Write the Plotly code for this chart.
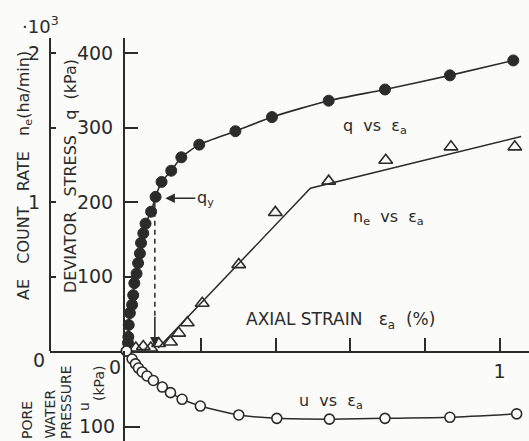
import plotly.graph_objects as go

# ---------------- data ----------------
q_strain = [0, 0.004, 0.005, 0.006, 0.009, 0.015, 0.018, 0.021, 0.027, 0.031, 0.036, 0.039,
            0.045, 0.051, 0.066, 0.078, 0.094, 0.120, 0.147, 0.195, 0.292, 0.390, 0.542,
            0.693, 0.867, 1.037]
q_kpa = [0, 11, 19, 35, 51, 62, 75, 91, 104, 118, 131, 145, 158, 171, 187, 207, 227, 242,
         260, 277, 295, 314, 336, 351, 370, 390]

ne_strain = [0.025, 0.045, 0.065, 0.086, 0.118, 0.140, 0.163, 0.203, 0.301, 0.399, 0.542,
             0.695, 0.870, 1.041]
ne_k = [0.02, 0.03, 0.02, 0.05, 0.06, 0.12, 0.19, 0.32, 0.58, 0.93, 1.14, 1.28, 1.37, 1.37]

fit_strain = [0.085, 0.493, 1.058]
fit_ne = [0.02, 1.092, 1.44]

u_strain = [0, 0.015, 0.024, 0.032, 0.042, 0.055, 0.072, 0.096, 0.118, 0.149, 0.198, 0.301,
            0.403, 0.544, 0.693, 0.867, 1.046]
u_kpa = [0, 10.6, 17, 22.5, 27.7, 33, 39, 47.6, 55, 63.8, 72.7, 84.5, 89, 90, 89, 87.6, 83]

qy_strain = 0.076
qy_kpa = 207

x_ticks = [0.2, 0.4, 0.6, 0.8, 1.0]
x_ticktext = ["", "", "", "", "1"]
q_ticks = [100, 200, 300, 400]
ne_ticks = [0.5, 1, 1.5, 2]
ne_ticktext = ["", "1", "", "2"]
u_ticks = [100]

# ---------------- layout helpers ----------------
W, H = 529, 441
ML, MT = 50, 38
PW, PH = W - ML, H - MT
BASE = 351  # pixel row of the zero line


def px(x):
    return (x - ML) / PW


def py(y):
    return (H - y) / PH


INK = "#2b2b2b"
FONT = "DejaVu Sans"
base_frac = py(BASE)

fig = go.Figure()

fig.add_trace(go.Scatter(
    x=q_strain, y=q_kpa, mode="lines+markers", xaxis="x", yaxis="y",
    line=dict(color=INK, width=1.6, shape="spline", smoothing=0.6),
    marker=dict(symbol="circle", size=11, color=INK, line=dict(color=INK, width=1)),
    cliponaxis=False, showlegend=False))

fig.add_trace(go.Scatter(
    x=fit_strain, y=fit_ne, mode="lines", xaxis="x", yaxis="y2",
    line=dict(color=INK, width=1.5), cliponaxis=False, showlegend=False))

fig.add_trace(go.Scatter(
    x=ne_strain, y=ne_k, mode="markers", xaxis="x", yaxis="y2",
    marker=dict(symbol="triangle-up-open", size=12, color=INK, line=dict(color=INK, width=1.6)),
    cliponaxis=False, showlegend=False))

fig.add_trace(go.Scatter(
    x=u_strain, y=u_kpa, mode="lines+markers", xaxis="x", yaxis="y3",
    line=dict(color=INK, width=1.5, shape="spline", smoothing=0.6),
    marker=dict(symbol="circle", size=10, color="#fbfbf9", line=dict(color=INK, width=1.6)),
    cliponaxis=False, showlegend=False))

x_lo = (ML - 126.5) / 373.0
x_hi = (W - 126.5) / 373.0
q_top = (BASE - MT) / 0.745
ne_top = (BASE - MT) / 149.0
u_bot = (H - BASE) / 0.757

tickfont = dict(family=FONT, size=19, color=INK)

fig.update_layout(
    width=W, height=H,
    margin=dict(l=ML, r=0, t=MT, b=0, pad=0),
    paper_bgcolor="#fbfbf9", plot_bgcolor="rgba(0,0,0,0)",
    font=dict(family=FONT, color=INK),
    xaxis=dict(range=[x_lo, x_hi], domain=[0, 1], anchor="y",
               showgrid=False, zeroline=False, showline=True, linecolor=INK, linewidth=2,
               ticks="inside", ticklen=13, tickwidth=1.5, tickcolor=INK,
               tickvals=x_ticks, ticktext=x_ticktext, tickfont=tickfont, ticklabelstandoff=2),
    yaxis=dict(range=[0, q_top], domain=[base_frac, 1], anchor="free",
               position=px(124), showgrid=False, zeroline=False, showline=True,
               linecolor=INK, linewidth=2, ticks="inside", ticklen=13, tickwidth=1.5,
               tickcolor=INK, tickvals=q_ticks, tickfont=tickfont, ticklabelstandoff=6),
    yaxis2=dict(range=[0, ne_top], domain=[base_frac, 1], anchor="free", overlaying="y",
                position=0, showgrid=False, zeroline=False, showline=True,
                linecolor=INK, linewidth=2, ticks="inside", ticklen=5, tickwidth=1.5,
                tickcolor=INK, tickvals=ne_ticks, ticktext=ne_ticktext, tickfont=tickfont,
                ticklabelstandoff=5),
    yaxis3=dict(range=[u_bot, 0], domain=[0, base_frac], anchor="free",
                position=px(124), showgrid=False, zeroline=False, showline=True,
                linecolor=INK, linewidth=2, ticks="inside", ticklen=15, tickwidth=1.5,
                tickcolor=INK, tickvals=u_ticks, tickfont=tickfont, ticklabelstandoff=4),
)

# dashed line marking the yield point
fig.add_shape(type="line", xref="x", yref="y", x0=qy_strain, x1=qy_strain,
              y0=qy_kpa - 8, y1=45, line=dict(color=INK, width=1.5, dash="5px,4px"))

NB = "\u00a0"
ann = []


def text(t, x, y, size=15, angle=0, xa="center", ya="middle"):
    ann.append(dict(text=t, x=px(x), y=py(y), xref="paper", yref="paper",
                    showarrow=False, textangle=angle, xanchor=xa, yanchor=ya,
                    font=dict(family=FONT, size=size, color=INK)))


text("·10<sup>3</sup>", 40, 25, size=18)
text(f"AE{NB*3}COUNT{NB*3}RATE{NB*3}n<sub>e</sub>(ha/min)", 24, 176, size=16, angle=-90)
text(f"DEVIATOR{NB*3}STRESS{NB*3}q{NB*2}(kPa)", 70, 176, size=16, angle=-90)
text("PORE", 27, 441, size=14, angle=-90, ya="bottom")
text("WATER", 49, 441, size=14, angle=-90, ya="bottom")
text("PRESSURE", 66, 441, size=14, angle=-90, ya="bottom")
text("u", 84, 407, size=14, angle=-90)
text("(kPa)", 99, 384, size=14, angle=-90)
text("0", 39, 360, size=19)
text("0", 115, 367, size=19)
text(f"AXIAL{NB}STRAIN{NB*3}ε<sub>a</sub>{NB*2}(%)", 244, 320, size=17, xa="left")
text(f"q{NB*2}vs{NB*2}ε<sub>a</sub>", 341, 127, size=16, xa="left")
text(f"n<sub>e</sub>{NB*2}vs{NB*2}ε<sub>a</sub>", 351, 217, size=16, xa="left")
text(f"u{NB*2}vs{NB*2}ε<sub>a</sub>", 297, 401, size=16, xa="left")

# q_y pointer
ann.append(dict(text="q<sub>y</sub>", x=0.104, y=qy_kpa - 2, xref="x", yref="y",
                ax=40, ay=0, showarrow=True, arrowhead=2, arrowsize=1.2, arrowwidth=1.6,
                arrowcolor=INK, xanchor="center", yanchor="middle",
                font=dict(family=FONT, size=16, color=INK)))
# downward arrow at yield strain
ann.append(dict(text="", x=qy_strain, y=6, xref="x", yref="y",
                ax=qy_strain, ay=48, axref="x", ayref="y",
                showarrow=True, arrowhead=2, arrowsize=1.2, arrowwidth=1.6, arrowcolor=INK))

fig.update_layout(annotations=ann)

fig.write_html("out.html")
